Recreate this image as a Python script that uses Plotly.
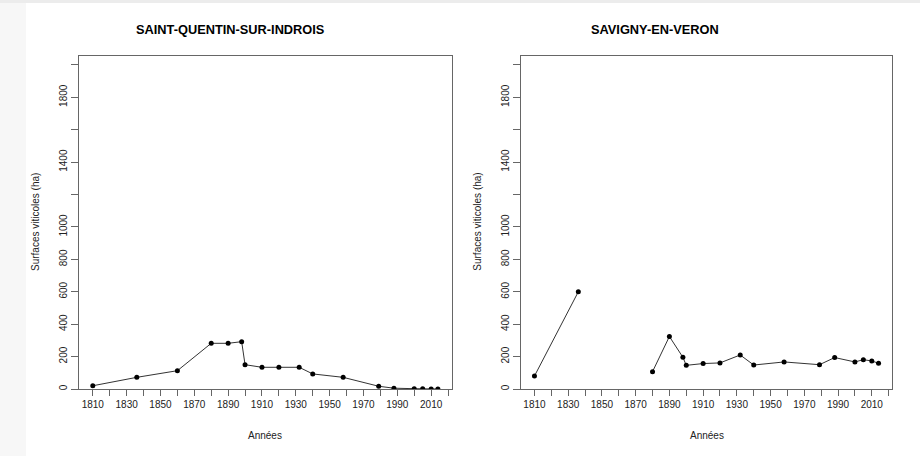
import plotly.graph_objects as go

years = [1810, 1836, 1860, 1880, 1890, 1898, 1900, 1910, 1920, 1932, 1940,
         1958, 1979, 1988, 2000, 2005, 2010, 2014]
saint_quentin = [20, 72, 113, 282, 282, 292, 150, 134, 134, 134, 93,
                 72, 17, 5, 2, 2, 0, 0]
savigny = [80, 600, None, 107, 324, 196, 146, 157, 161, 210, 148,
           167, 150, 194, 167, 181, 173, 159]

titles = ["SAINT-QUENTIN-SUR-INDROIS", "SAVIGNY-EN-VERON"]
x_label = "Années"
y_label = "Surfaces viticoles (ha)"

x_ticks = list(range(1810, 2021, 10))
x_ticktext = [str(v) if (v - 1810) % 20 == 0 else "" for v in x_ticks]
y_ticks = list(range(0, 2001, 200))
y_ticktext = [str(v) if v <= 1000 or v in (1400, 1800) else "" for v in y_ticks]

W, H = 920, 456
FONT = "Liberation Sans, Arial, sans-serif"
TXT = "#222222"
AX = "#666666"

fig = go.Figure()
for i, vals in enumerate([saint_quentin, savigny]):
    sfx = "" if i == 0 else "2"
    fig.add_trace(go.Scatter(
        x=years, y=vals, mode="lines+markers",
        line=dict(color="#333333", width=1),
        marker=dict(color="black", size=5),
        connectgaps=False, showlegend=False,
        xaxis="x" + sfx, yaxis="y" + sfx,
    ))

boxes = [(79, 451.7), (520.7, 892.3)]
ydom = [1 - 389 / H, 1 - 55.5 / H]

common_x = dict(range=[1801.84, 2022.16], tickmode="array", tickvals=x_ticks,
                ticktext=x_ticktext, ticks="outside", ticklen=6, tickcolor=AX,
                showgrid=False, zeroline=False, showline=True, linecolor=AX,
                linewidth=1, mirror=True, tickfont=dict(family=FONT, size=10, color=TXT))
common_y = dict(range=[0, 2058], tickmode="array", tickvals=y_ticks,
                ticktext=y_ticktext, ticks="outside", ticklen=7, tickcolor=AX,
                tickangle=-90, showgrid=False, zeroline=False, showline=True,
                linecolor=AX, linewidth=1, mirror=True,
                tickfont=dict(family=FONT, size=10, color=TXT))

fig.update_layout(
    xaxis=dict(domain=[boxes[0][0] / W, boxes[0][1] / W], anchor="y", **common_x),
    yaxis=dict(domain=ydom, anchor="x", **common_y),
    xaxis2=dict(domain=[boxes[1][0] / W, boxes[1][1] / W], anchor="y2", **common_x),
    yaxis2=dict(domain=ydom, anchor="x2", **common_y),
)

title_x = [230, 655]
ann = []
for i in range(2):
    ann.append(dict(text="<b>%s</b>" % titles[i], x=title_x[i] / W, y=1 - 29 / H,
                    xref="paper", yref="paper", showarrow=False,
                    font=dict(family=FONT, size=12.8, color="black"),
                    xanchor="center", yanchor="middle"))
    cx = (boxes[i][0] + boxes[i][1]) / 2
    ann.append(dict(text=x_label, x=cx / W, y=1 - 435 / H, xref="paper", yref="paper",
                    showarrow=False, font=dict(family=FONT, size=10, color=TXT),
                    xanchor="center", yanchor="middle"))
    ann.append(dict(text=y_label, x=(boxes[i][0] - 44) / W, y=1 - 222 / H,
                    xref="paper", yref="paper", showarrow=False, textangle=-90,
                    font=dict(family=FONT, size=10, color=TXT),
                    xanchor="center", yanchor="middle"))

shapes = [
    dict(type="rect", xref="paper", yref="paper", x0=0, x1=26 / W, y0=0, y1=1,
         fillcolor="#f7f7f7", line=dict(width=0), layer="below"),
    dict(type="rect", xref="paper", yref="paper", x0=0, x1=1, y0=1 - 3 / H, y1=1,
         fillcolor="#ececec", line=dict(width=0), layer="below"),
]

fig.update_layout(width=W, height=H, margin=dict(l=0, r=0, t=0, b=0),
                  paper_bgcolor="white", plot_bgcolor="white",
                  annotations=ann, shapes=shapes)

fig.write_html("out.html", config={"displayModeBar": False},
               post_script="document.body.style.margin='0';"
                           "document.body.style.overflow='hidden';")
